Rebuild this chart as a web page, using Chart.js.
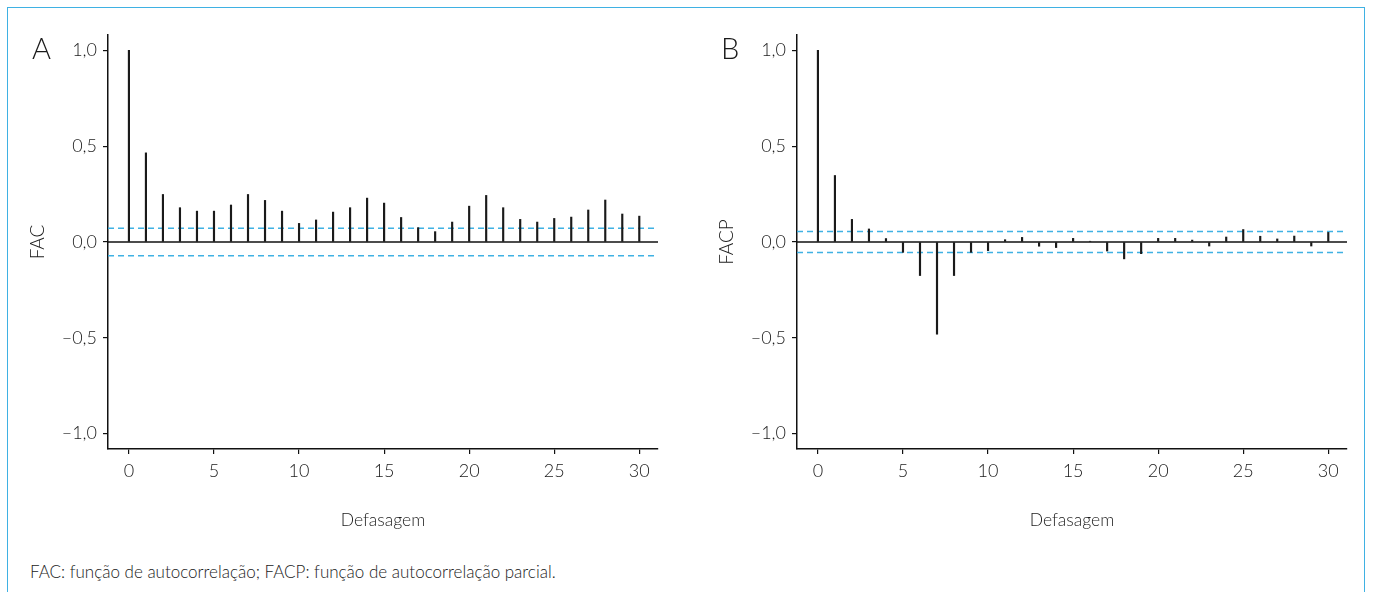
<!DOCTYPE html>
<html>
<head>
<meta charset="utf-8">
<script src="https://cdn.jsdelivr.net/npm/chart.js@4"></script>
<style>
  body { margin: 0; background: #fff; width: 1373px; height: 592px; overflow: hidden; position: relative; font-family: Lato, sans-serif; color: #1a1a1a; }
  #frame { position: absolute; left: 7px; top: 7px; width: 1356px; height: 620px; border: 1.5px solid #3fb1e3; }
  canvas { position: absolute; top: 0; }
  #chartA { left: 0; }
  #chartB { left: 689px; }
  .letter { position: absolute; top: 30px; font-size: 29px; font-weight: 300; }
  #footer { position: absolute; left: 30px; top: 561px; font-size: 17px; font-weight: 300; }
</style>
</head>
<body>
<div id="frame"></div>
<canvas id="chartA" width="686" height="560"></canvas>
<canvas id="chartB" width="684" height="560"></canvas>
<div class="letter" style="left:32px">A</div>
<div class="letter" style="left:721px">B</div>
<div id="footer">FAC: função de autocorrelação; FACP: função de autocorrelação parcial.</div>
<script>
const lags = [0, 1, 2, 3, 4, 5, 6, 7, 8, 9, 10, 11, 12, 13, 14, 15, 16, 17, 18, 19, 20, 21, 22, 23, 24, 25, 26, 27, 28, 29, 30];
const fac = [1.0, 0.465, 0.248, 0.179, 0.161, 0.161, 0.193, 0.248, 0.217, 0.161, 0.097, 0.115, 0.156, 0.179, 0.229, 0.203,
  0.128, 0.075, 0.054, 0.104, 0.187, 0.243, 0.179, 0.118, 0.104, 0.123, 0.130, 0.167, 0.219, 0.146, 0.135];
const facp = [1.0, 0.347, 0.118, 0.068, 0.018, -0.054, -0.175, -0.481, -0.175, -0.054, -0.045, 0.012, 0.024, -0.022, -0.029, 0.019,
  0.004, -0.047, -0.088, -0.061, 0.019, 0.019, 0.010, -0.021, 0.026, 0.065, 0.030, 0.016, 0.031, -0.021, 0.050];
const facLimit = 0.072;
const facpLimit = 0.055;
const yTicks = [-1.0, -0.5, 0.0, 0.5, 1.0];
const xTicks = [0, 5, 10, 15, 20, 25, 30];

Chart.defaults.font.family = "Lato, sans-serif";
Chart.defaults.color = "#1a1a1a";

// linha do zero e limites de confianca
const refLines = {
  id: "refLines",
  beforeDatasetsDraw(chart, args, opts) {
    const { ctx, chartArea: a, scales: { y } } = chart;
    ctx.save();
    ctx.lineWidth = 1.5;
    ctx.strokeStyle = "#3fb1e3";
    ctx.setLineDash([6, 4]);
    [opts.limit, -opts.limit].forEach((v) => {
      const py = y.getPixelForValue(v);
      ctx.beginPath();
      ctx.moveTo(a.left, py);
      ctx.lineTo(a.right, py);
      ctx.stroke();
    });
    ctx.setLineDash([]);
    ctx.strokeStyle = "#111";
    const p0 = y.getPixelForValue(0);
    ctx.beginPath();
    ctx.moveTo(a.left, p0);
    ctx.lineTo(a.right, p0);
    ctx.stroke();
    ctx.restore();
  }
};

function fmt(v) {
  return (v < 0 ? "–" : "") + Math.abs(v).toFixed(1).replace(".", ",");
}

function makeChart(id, values, limit, title, rightPad) {
  return new Chart(document.getElementById(id), {
    type: "bar",
    data: {
      datasets: [{
        data: lags.map((l, i) => ({ x: l, y: values[i] })),
        backgroundColor: "#1a1a1a",
        barThickness: 1.5
      }]
    },
    options: {
      responsive: false,
      animation: false,
      layout: { padding: { left: 22, top: 35, right: rightPad, bottom: 25 } },
      plugins: { legend: { display: false }, tooltip: { enabled: false }, refLines: { limit: limit } },
      scales: {
        x: {
          type: "linear",
          offset: false,
          min: -1.23,
          max: 31.1,
          afterBuildTicks: (s) => { s.ticks = xTicks.map((v) => ({ value: v })); },
          afterFit: (s) => { s.height = 86; },
          grid: { offset: false, drawOnChartArea: false, drawTicks: true, tickLength: 5, color: "#111", lineWidth: 1.2 },
          border: { display: true, color: "#111", width: 1.5 },
          ticks: { font: { size: 18, weight: "300" }, padding: 6, maxRotation: 0 },
          title: { display: true, text: "Defasagem", font: { size: 17.5, weight: "300" }, padding: { top: 0, bottom: 4 } }
        },
        y: {
          min: -1.08,
          max: 1.08,
          afterBuildTicks: (s) => { s.ticks = yTicks.map((v) => ({ value: v })); },
          afterFit: (s) => { s.width = 86; },
          grid: { drawOnChartArea: false, drawTicks: true, tickLength: 5, color: "#111", lineWidth: 1.2 },
          border: { display: true, color: "#111", width: 1.5 },
          ticks: { font: { size: 18, weight: "300" }, padding: 6, callback: fmt },
          title: { display: true, text: title, font: { size: 19, weight: "300" }, padding: { top: 4, bottom: 0 } }
        }
      }
    },
    plugins: [refLines]
  });
}

makeChart("chartA", fac, facLimit, "FAC", 28);
makeChart("chartB", facp, facpLimit, "FACP", 26);
</script>
</body>
</html>
